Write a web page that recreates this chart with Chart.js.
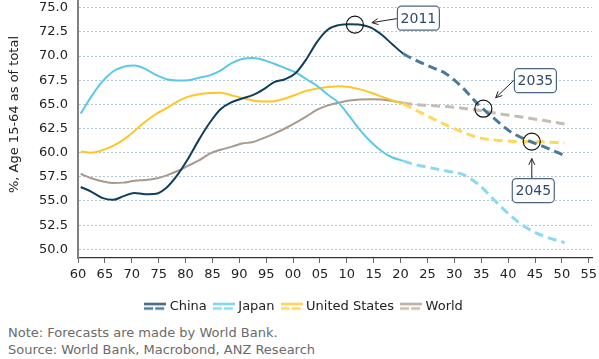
<!DOCTYPE html>
<html>
<head>
<meta charset="utf-8">
<script src="https://cdn.jsdelivr.net/npm/chart.js@4.4.1/dist/chart.umd.min.js"></script>
<style>
  html, body { margin: 0; padding: 0; background: #fff; }
  #wrap { position: relative; width: 599px; height: 359px; overflow: hidden; }
  #notes {
    position: absolute; left: 8px; top: 324px;
    font: 13px 'DejaVu Sans', sans-serif; color: #6b6b6b; line-height: 17px;
  }
</style>
</head>
<body>
<div id="wrap">
  <canvas id="chart" width="599" height="318"></canvas>
  <div id="notes">Note: Forecasts are made by World Bank.<br>Source: World Bank, Macrobond, ANZ Research</div>
</div>
<script>
// years (plotted at mid-year), actuals up to 2020, World Bank forecasts after
const years = [1960, 1962, 1964, 1966, 1968, 1970, 1972, 1974, 1976, 1978,
  1980, 1982, 1984, 1986, 1988, 1990, 1992, 1994, 1996, 1998,
  2000, 2002, 2004, 2006, 2008, 2010, 2012, 2014, 2016, 2018, 2020,
  2022, 2025, 2028, 2031, 2034, 2037, 2040, 2043, 2046, 2050];

const china = [56.45, 55.95, 55.32, 55.12, 55.5, 55.83, 55.7, 55.75, 56.4, 57.7,
  59.4, 61.35, 63.1, 64.5, 65.2, 65.6, 65.95, 66.55, 67.3, 67.6,
  68.25, 69.7, 71.5, 72.75, 73.2, 73.3, 73.25, 72.95, 72.2, 71.2, 70.25,
  69.65, 68.9, 68.15, 66.75, 64.95, 63.5, 62.15, 61.3, 60.65, 59.7];

const japan = [64.06, 65.83, 67.35, 68.4, 68.9, 69.02, 68.67, 68.05, 67.6, 67.48,
  67.5, 67.75, 68.0, 68.5, 69.25, 69.7, 69.8, 69.6, 69.2, 68.75,
  68.3, 67.6, 66.9, 66.0, 65.15, 63.75, 62.3, 61.1, 60.15, 59.5, 59.15,
  58.8, 58.45, 58.1, 57.75, 56.7, 55.05, 53.45, 52.2, 51.4, 50.68];

const unitedStates = [60.12, 60.0, 60.25, 60.7, 61.35, 62.25, 63.2, 64.0, 64.6, 65.3,
  65.8, 66.05, 66.17, 66.2, 65.95, 65.67, 65.4, 65.3, 65.33, 65.6,
  66.0, 66.4, 66.65, 66.8, 66.88, 66.8, 66.55, 66.2, 65.8, 65.4, 65.05,
  64.5, 63.65, 62.85, 62.15, 61.55, 61.3, 61.18, 61.15, 61.12, 61.0];

const world = [57.82, 57.35, 57.05, 56.85, 56.9, 57.1, 57.17, 57.32, 57.65, 58.1,
  58.65, 59.2, 59.9, 60.3, 60.6, 60.94, 61.1, 61.5, 61.98, 62.5,
  63.1, 63.75, 64.45, 64.9, 65.18, 65.4, 65.5, 65.53, 65.5, 65.35, 65.15,
  65.0, 64.88, 64.77, 64.6, 64.38, 64.1, 63.85, 63.6, 63.35, 62.96];

const forecastFrom = 2020;

const xTickLabels = ['60', '65', '70', '75', '80', '85', '90', '95', '00', '05',
  '10', '15', '20', '25', '30', '35', '40', '45', '50', '55'];
const yTickLabels = ['50.0', '52.5', '55.0', '57.5', '60.0', '62.5', '65.0', '67.5', '70.0', '72.5', '75.0'];
const yTitle = '%, Age 15-64 as of total';

// highlighted points
const calloutLabels = ['2011', '2035', '2045'];
const calloutX = [2011.5, 2035.4, 2044.4];
const calloutY = [73.25, 64.55, 61.15];

function swatch(solid, dashed) {
    const c = document.createElement('canvas')
    c.width = 22
    c.height = 10
    const g = c.getContext('2d')
    g.lineWidth = 2
    g.strokeStyle = solid
    g.beginPath(); g.moveTo(0, 2.5); g.lineTo(22, 2.5); g.stroke()
    g.lineWidth = 2.5
    g.strokeStyle = dashed
    g.setLineDash([9, 2])
    g.beginPath(); g.moveTo(0, 7); g.lineTo(22, 7); g.stroke()
    return c
}

function series(label, values, solid, dashed) {
    return {
        label: label,
        data: years.map((yr, i) => ({ x: yr + 0.5, y: values[i] })),
        borderColor: solid,
        borderWidth: 2,
        pointRadius: 0,
        pointHoverRadius: 0,
        pointStyle: swatch(solid, dashed),
        cubicInterpolationMode: 'monotone',
        segment: {
            borderColor: ctx => ctx.p0.parsed.x >= forecastFrom + 0.5 ? dashed : undefined,
            borderDash: ctx => ctx.p0.parsed.x >= forecastFrom + 0.5 ? [9, 5] : undefined,
            borderWidth: ctx => ctx.p0.parsed.x >= forecastFrom + 0.5 ? 3 : undefined
        }
    }
}

const callouts = {
    id: 'callouts',
    afterLayout(chart) {
        // nudge the legend to where the original sits
        const lg = chart.legend
        lg.left += 9; lg.right += 9
        lg.top += 5; lg.bottom += 5
    },
    afterDraw(chart) {
        const { ctx } = chart
        ctx.save()
        ctx.translate(15, 114.5)
        ctx.rotate(-Math.PI / 2)
        ctx.fillStyle = '#222'
        ctx.font = '13px "DejaVu Sans"'
        ctx.textAlign = 'center'
        ctx.textBaseline = 'middle'
        ctx.fillText(yTitle, 0, 0)
        ctx.restore()
    },
    afterDatasetsDraw(chart) {
        const { ctx, scales: { x, y } } = chart
        // box centre, arrow tail, arrow tip (relative to circle centre)
        const geo = [
            { box: [63.5, -6.5], tail: [42, -6], tip: [17, -2] },
            { box: [52, -28], tail: [30.5, -28.5], tip: [12.3, -11] },
            { box: [1.5, 49], tail: [0, 37], tip: [0, 17] }
        ]
        ctx.save()
        calloutLabels.forEach((label, i) => {
            const cx = x.getPixelForValue(calloutX[i])
            const cy = y.getPixelForValue(calloutY[i])
            const g = geo[i]

            ctx.strokeStyle = '#111'
            ctx.lineWidth = 1.2
            ctx.beginPath()
            ctx.arc(cx, cy, 8.5, 0, Math.PI * 2)
            ctx.stroke()

            // arrow
            const tx = cx + g.tail[0], ty = cy + g.tail[1]
            const px = cx + g.tip[0], py = cy + g.tip[1]
            const ang = Math.atan2(py - ty, px - tx)
            ctx.lineWidth = 1
            ctx.strokeStyle = '#222'
            ctx.beginPath()
            ctx.moveTo(tx, ty)
            ctx.lineTo(px, py)
            ctx.moveTo(px - 7 * Math.cos(ang - 0.45), py - 7 * Math.sin(ang - 0.45))
            ctx.lineTo(px, py)
            ctx.lineTo(px - 7 * Math.cos(ang + 0.45), py - 7 * Math.sin(ang + 0.45))
            ctx.stroke()

            // label box
            const w = 42, h = 24
            const bx = cx + g.box[0] - w / 2, by = cy + g.box[1] - h / 2
            ctx.beginPath()
            ctx.roundRect(bx, by, w, h, 4)
            ctx.fillStyle = '#fff'
            ctx.fill()
            ctx.strokeStyle = '#4d6585'
            ctx.lineWidth = 1.2
            ctx.stroke()
            ctx.fillStyle = '#2f4a6d'
            ctx.font = '14px "DejaVu Sans"'
            ctx.textAlign = 'center'
            ctx.textBaseline = 'middle'
            ctx.fillText(label, bx + w / 2, by + h / 2 + 1)
        })
        ctx.restore()
    }
}

Chart.defaults.font.family = '"DejaVu Sans", sans-serif'
Chart.defaults.font.size = 13
Chart.defaults.color = '#222'

new Chart(document.getElementById('chart'), {
    type: 'line',
    data: {
        datasets: [
            series('China', china, '#0f3e5e', '#4a7a98'),
            series('Japan', japan, '#5bc8ea', '#8dd8f0'),
            series('United States', unitedStates, '#ffc629', '#ffd75e'),
            series('World', world, '#a89a8e', '#c6bcb2')
        ]
    },
    options: {
        responsive: false,
        animation: false,
        layout: { padding: { left: 0, right: 7, top: 0, bottom: 0 } },
        plugins: {
            legend: {
                position: 'bottom',
                labels: {
                    usePointStyle: true,
                    pointStyleWidth: 16,
                    boxHeight: 10,
                    padding: 9,
                    color: '#222',
                    font: { size: 13 }
                }
            },
            tooltip: { enabled: false }
        },
        scales: {
            x: {
                type: 'linear',
                min: 1960,
                max: 2055.6,
                afterBuildTicks: scale => {
                    scale.ticks = xTickLabels.map((t, i) => ({ value: 1960 + 5 * i }))
                },
                afterFit: scale => {
                    scale.height = 28
                    scale.paddingLeft = 0
                    scale.paddingRight = 0
                },
                ticks: {
                    autoSkip: false,
                    maxRotation: 0,
                    padding: 4,
                    color: '#222',
                    callback: (value, index) => xTickLabels[index]
                },
                grid: {
                    drawOnChartArea: false,
                    drawTicks: true,
                    tickLength: 5,
                    tickColor: '#666'
                },
                border: { display: true, color: '#333', width: 1.2 }
            },
            y: {
                min: 49.1,
                max: 75.8,
                afterBuildTicks: scale => {
                    scale.ticks = yTickLabels.map(t => ({ value: parseFloat(t) }))
                },
                afterFit: scale => {
                    scale.width = 78
                    scale.paddingTop = 0
                    scale.paddingBottom = 0
                },
                ticks: {
                    padding: 10,
                    color: '#222',
                    callback: (value, index) => yTickLabels[index]
                },
                grid: {
                    color: '#b5c7d1',
                    lineWidth: 1,
                    drawTicks: false
                },
                border: { display: true, color: '#808080', width: 2, dash: [2, 2] }
            }
        }
    },
    plugins: [callouts]
});
</script>
</body>
</html>
